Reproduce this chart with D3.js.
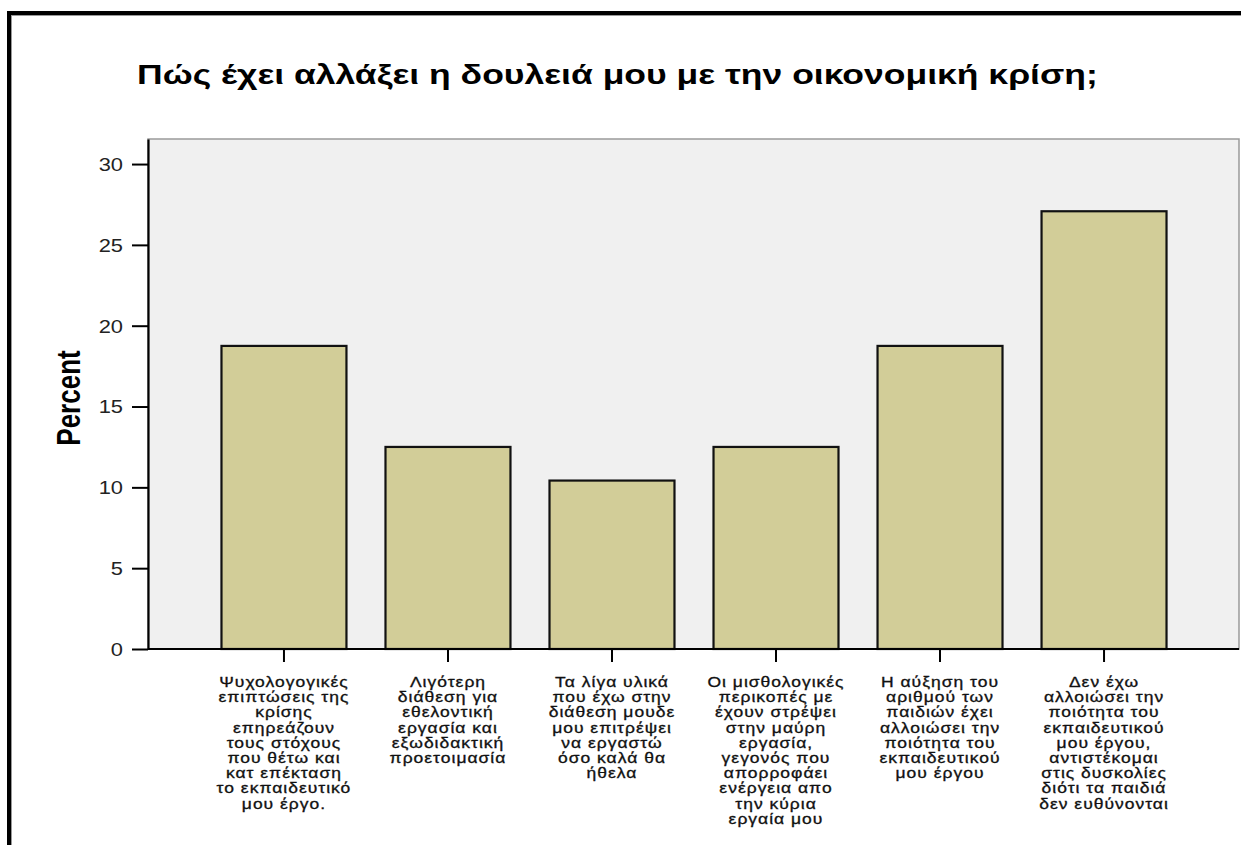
<!DOCTYPE html>
<html><head><meta charset="utf-8">
<script src="https://cdn.jsdelivr.net/npm/d3@7"></script>
<style>
html,body{margin:0;padding:0;background:#fff;}
svg{display:block;}
</style></head>
<body>
<svg id="chart" width="1241" height="845"></svg>
<script>
const title = "Πώς έχει αλλάξει η δουλειά μου με την οικονομική κρίση;";
const yLabel = "Percent";
const categories = [
  ["Ψυχολογογικές","επιπτώσεις της","κρίσης","επηρεάζουν","τους στόχους","που θέτω και","κατ επέκταση","το εκπαιδευτικό","μου έργο."],
  ["Λιγότερη","διάθεση για","εθελοντική","εργασία και","εξωδιδακτική","προετοιμασία"],
  ["Τα λίγα υλικά","που έχω στην","διάθεση μουδε","μου επιτρέψει","να εργαστώ","όσο καλά θα","ήθελα"],
  ["Οι μισθολογικές","περικοπές με","έχουν στρέψει","στην μαύρη","εργασία,","γεγονός που","απορροφάει","ενέργεια απο","την κύρια","εργαία μου"],
  ["Η αύξηση του","αριθμού των","παιδιών έχει","αλλοιώσει την","ποιότητα του","εκπαιδευτικού","μου έργου"],
  ["Δεν έχω","αλλοιώσει την","ποιότητα του","εκπαιδευτικού","μου έργου,","αντιστέκομαι","στις δυσκολίες","διότι τα παιδιά","δεν ευθύνονται"]
];
const percents = [18.75, 12.5, 10.42, 12.5, 18.75, 27.08];
const yTicks = [0, 5, 10, 15, 20, 25, 30];

const svg = d3.select("#chart");
const font = "'Liberation Sans', Arial, sans-serif";
const SX = 1.25;
const plot = {left:148, right:1239, top:139, bottom:649};

// outer frame
svg.append("rect").attr("x",9).attr("y",13).attr("width",1300).attr("height",1000)
  .attr("fill","none").attr("stroke","#000").attr("stroke-width",4);
svg.append("rect").attr("x",11.5).attr("y",15.5).attr("width",1300).attr("height",1000)
  .attr("fill","none").attr("stroke","#999").attr("stroke-width",1);

// plot background
svg.append("rect").attr("x",plot.left).attr("y",plot.top)
  .attr("width",plot.right-plot.left).attr("height",plot.bottom-plot.top)
  .attr("fill","#f0f0f0").attr("stroke","#9a9a9a").attr("stroke-width",1.5);

const x = d3.scaleBand().domain(d3.range(categories.length))
  .range([plot.left, plot.right+1]).paddingInner(0.238).paddingOuter(0.448);
const y = d3.scaleLinear().domain([0, 31.55]).range([plot.bottom, plot.top]);

// bars
svg.append("g").selectAll("rect").data(percents).join("rect")
  .attr("x", (d,i)=>x(i)).attr("y", d=>y(d))
  .attr("width", x.bandwidth()).attr("height", d=>y(0)-y(d))
  .attr("fill","#d2cd98").attr("stroke","#111").attr("stroke-width",2.2);

// y axis
const ya = svg.append("g").attr("transform",`translate(${plot.left},0)`)
  .call(d3.axisLeft(y).tickValues(yTicks).tickSize(16).tickSizeOuter(0).tickPadding(9));
ya.select(".domain").attr("stroke","#000").attr("stroke-width",2.2);
ya.selectAll(".tick line").attr("stroke","#000").attr("stroke-width",2);
ya.selectAll(".tick text").attr("font-family",font).attr("font-size",17.5).attr("fill","#222")
  .attr("x", -25/SX).attr("transform",`scale(${SX},1)`).attr("dy","0.36em");

// x axis
const xa = svg.append("g").attr("transform",`translate(0,${plot.bottom})`)
  .call(d3.axisBottom(x).tickSize(13).tickSizeOuter(0).tickFormat(""));
xa.select(".domain").attr("stroke","#000").attr("stroke-width",2.2)
  .attr("d",`M${plot.left},0H${plot.right}`);
xa.selectAll(".tick line").attr("stroke","#000").attr("stroke-width",2);

// category labels
const lab = svg.append("g").selectAll("g").data(categories).join("g")
  .attr("transform",(d,i)=>`translate(${x(i)+x.bandwidth()/2},687) scale(${SX},1)`);
lab.append("text").attr("text-anchor","middle").attr("font-family",font)
  .attr("font-size",14).attr("letter-spacing",0.8).attr("fill","#111")
  .attr("stroke","#111").attr("stroke-width",0.3)
  .each(function(lines){
    d3.select(this).selectAll("tspan").data(lines).join("tspan")
      .attr("x",0).attr("y",(d,j)=>j*15.2).text(d=>d);
  });

// y label
svg.append("g").attr("transform",`translate(80,398) scale(${SX},1) rotate(-90)`)
  .append("text").attr("text-anchor","middle").attr("font-family",font)
  .attr("font-weight","bold").attr("font-size",26).attr("fill","#000").text(yLabel);

// title
const tg = svg.append("g").attr("transform","translate(137,84)");
const tt = tg.append("text").attr("font-family",font).attr("font-weight","bold")
  .attr("font-size",28).attr("fill","#000").text(title);
const tl = tt.node().getComputedTextLength();
tt.attr("transform",`scale(${961/tl},1)`);
</script>
</body></html>
